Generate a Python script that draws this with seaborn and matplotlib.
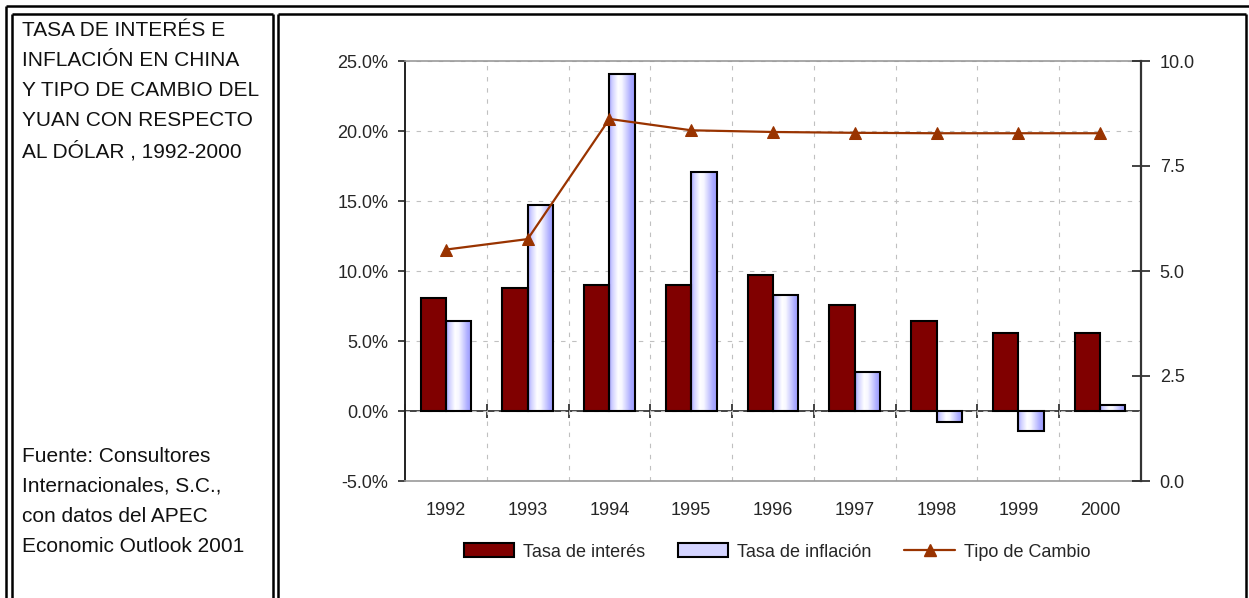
import numpy as np
import pandas as pd
import matplotlib
matplotlib.use('Agg')
import matplotlib.pyplot as plt
import seaborn as sns
from matplotlib import font_manager
from matplotlib.patches import Patch
from matplotlib.lines import Line2D
from matplotlib.colors import LinearSegmentedColormap

# datos
anios = ['1992', '1993', '1994', '1995', '1996', '1997', '1998', '1999', '2000']
tasa_interes = [8.1, 8.8, 9.0, 9.0, 9.7, 7.6, 6.4, 5.6, 5.6]
tasa_inflacion = [6.4, 14.7, 24.1, 17.1, 8.3, 2.8, -0.8, -1.4, 0.4]
tipo_cambio = [5.51, 5.76, 8.62, 8.35, 8.31, 8.29, 8.28, 8.28, 8.28]

titulo = ['TASA DE INTERÉS E', 'INFLACIÓN EN CHINA', 'Y TIPO DE CAMBIO DEL',
          'YUAN CON RESPECTO', 'AL DÓLAR , 1992-2000']
fuente = ['Fuente: Consultores', 'Internacionales, S.C.,', 'con datos del APEC',
          'Economic Outlook 2001']

sns.set_style('white')
plt.rcParams['font.family'] = ['Liberation Sans', 'DejaVu Sans']

nombres = {f.name for f in font_manager.fontManager.ttflist}
if 'Liberation Sans Narrow' in nombres:
    fuente_panel, tam_panel = 'Liberation Sans Narrow', 18
else:
    fuente_panel, tam_panel = 'Liberation Sans', 15

W, H = 1249, 598
fig = plt.figure(figsize=(W / 100, H / 100), dpi=100)

def fx(px):
    return px / W

def fy(py):
    return 1 - py / H

# marcos dobles
marco = dict(color='black', lw=1.8, solid_capstyle='butt')
fig.add_artist(Line2D([fx(5.5), 1.01], [fy(5.5), fy(5.5)], **marco))
fig.add_artist(Line2D([fx(5.5), fx(5.5)], [fy(5.5), -0.01], **marco))
for x0, x1 in [(12, 272.5), (277.5, 1245.5)]:
    fig.add_artist(Line2D([fx(x0), fx(x1)], [fy(14), fy(14)], **marco))
    fig.add_artist(Line2D([fx(x0), fx(x0)], [fy(14), -0.01], **marco))
    fig.add_artist(Line2D([fx(x1), fx(x1)], [fy(14), -0.01], **marco))

for i, linea in enumerate(titulo):
    fig.text(fx(22), fy(21 + 30 * i), linea, family=fuente_panel, fontsize=tam_panel,
             va='top', ha='left', color='#111111')
for i, linea in enumerate(fuente):
    fig.text(fx(22), fy(447 + 30 * i), linea, family=fuente_panel, fontsize=tam_panel,
             va='top', ha='left', color='#111111')

ax = fig.add_axes([fx(405), fy(481), fx(1141) - fx(405), fy(61) - fy(481)])

df = pd.DataFrame({
    'anio': anios * 2,
    'valor': tasa_interes + tasa_inflacion,
    'serie': ['Tasa de interés'] * len(anios) + ['Tasa de inflación'] * len(anios),
})
colores = {'Tasa de interés': '#800000', 'Tasa de inflación': '#ccccff'}
sns.barplot(data=df, x='anio', y='valor', hue='serie', palette=colores, width=0.62,
            saturation=1, edgecolor='black', linewidth=1.5, legend=False, ax=ax, zorder=2)

# degradado azul-blanco en las barras de inflación
cmap = LinearSegmentedColormap.from_list('grad', [
    (0.0, '#a4a4ff'), (0.12, '#d0d0ff'), (0.35, '#ffffff'), (0.5, '#f6f6ff'),
    (0.85, '#aaaaff'), (1.0, '#9c9cff')])
grad = np.linspace(0, 1, 64).reshape(1, -1)
for barra in ax.containers[1]:
    x0, y0 = barra.get_x(), barra.get_y()
    w, h = barra.get_width(), barra.get_height()
    im = ax.imshow(grad, cmap=cmap, aspect='auto', extent=[x0, x0 + w, y0, y0 + h],
                   zorder=1.9, interpolation='bilinear')
    im.set_clip_path(barra)
    barra.set_facecolor('none')

ax.set_xlim(-0.5, len(anios) - 0.5)
ax.set_ylim(-5, 25)
ax.set_yticks(range(-5, 26, 5))
ax.set_yticklabels([f'{v:.1f}%' for v in range(-5, 26, 5)])
ax.set_xlabel('')
ax.set_ylabel('')
ax.set_axisbelow(True)

limites = np.arange(-0.5, len(anios), 1.0)
ax.set_xticks(limites[1:-1], minor=True)
ax.grid(axis='y', which='major', color='#c0c0c0', ls=(0, (4, 6)), lw=0.8)
ax.grid(axis='x', which='minor', color='#c0c0c0', ls=(0, (4, 6)), lw=0.8)
ax.tick_params(axis='x', which='major', length=0, pad=15, labelsize=13)
ax.tick_params(axis='x', which='minor', length=0)
ax.tick_params(axis='y', direction='out', length=5, width=1.2, color='#222222',
               pad=7, labelsize=13, left=True)
for lado in ['top', 'bottom']:
    ax.spines[lado].set_color('#999999')
    ax.spines[lado].set_linewidth(1.2)
ax.spines['left'].set_color('#222222')
ax.spines['left'].set_linewidth(1.4)
ax.spines['right'].set_visible(False)

# eje en cero con marcas entre categorías
eje0 = ax.secondary_xaxis(0, transform=ax.transData)
eje0.set_xticks(limites)
eje0.set_xticklabels([])
eje0.tick_params(direction='inout', length=10, width=1.2, color='#222222')
eje0.spines['bottom'].set_color('#222222')
eje0.spines['bottom'].set_linewidth(1.2)

ax2 = ax.twinx()
sns.lineplot(x=np.arange(len(anios)), y=tipo_cambio, color='#993300', lw=1.6,
             marker='^', markersize=9, markeredgecolor='#993300', ax=ax2)
ax2.set_xlim(-0.5, len(anios) - 0.5)
ax2.set_ylim(0, 10)
ax2.set_yticks(np.arange(0, 10.1, 2.5))
ax2.set_yticklabels([f'{v:.1f}' for v in np.arange(0, 10.1, 2.5)])
ax2.tick_params(axis='y', direction='inout', length=13, width=1.2, color='#222222',
                pad=7, labelsize=13, right=True)
for lado in ['top', 'bottom', 'left']:
    ax2.spines[lado].set_visible(False)
ax2.spines['right'].set_color('#333333')
ax2.spines['right'].set_linewidth(1.6)

manijas = [
    Patch(facecolor='#800000', edgecolor='black', lw=1.5, label='Tasa de interés'),
    Patch(facecolor='#d4d4ff', edgecolor='black', lw=1.5, label='Tasa de inflación'),
    Line2D([], [], color='#993300', lw=1.6, marker='^', markersize=9, label='Tipo de Cambio'),
]
fig.legend(handles=manijas, loc='center', bbox_to_anchor=(fx(777), fy(552)), ncol=3,
           frameon=False, fontsize=13, handlelength=2.8, handleheight=0.8,
           columnspacing=1.8, handletextpad=0.5)

fig.savefig('out.png', dpi=100)
